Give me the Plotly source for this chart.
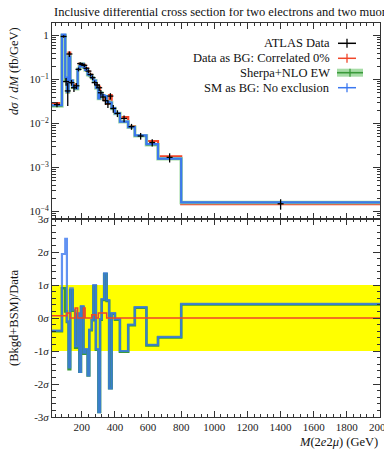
import plotly.graph_objects as go

# ---------------- data ----------------
bin_edges = [20, 80, 100, 110, 120, 130, 145, 160, 175, 185, 195, 210, 220, 235, 245, 260,
             270, 285, 300, 310, 320, 335, 350, 365, 380, 400, 430, 480, 520, 590, 660, 800, 2000]
bin_centers = [50, 90, 105, 115, 125, 137.5, 152.5, 167.5, 180, 190, 202.5, 215, 227.5, 240, 252.5, 265,
               277.5, 292.5, 305, 315, 327.5, 342.5, 357.5, 372.5, 390, 415, 455, 500, 555, 625, 730, 1400]

data_y = [0.027, 0.95, 0.09, 0.055, 0.38, 0.085, 0.065, 0.072, 0.17, 0.23, 0.22, 0.21, 0.18, 0.155,
          0.13, 0.11, 0.085, 0.075, 0.065, 0.05, 0.04, 0.033, 0.028, 0.042, 0.022, 0.017, 0.013,
          0.0085, 0.0052, 0.0037, 0.0017, 0.00015]
data_err = [0.0035, 0.06, 0.018, 0.03, 0.055, 0.013, 0.013, 0.011, 0.017, 0.018, 0.018, 0.017, 0.015,
            0.015, 0.013, 0.013, 0.01, 0.011, 0.01, 0.0075, 0.007, 0.0065, 0.0055, 0.007, 0.0044,
            0.003, 0.0023, 0.0013, 0.0009, 0.0007, 0.0004, 0.00004]
red_y = [0.029, 0.97, 0.092, 0.05, 0.41, 0.085, 0.065, 0.078, 0.17, 0.23, 0.22, 0.215, 0.18, 0.155,
         0.13, 0.112, 0.09, 0.075, 0.068, 0.052, 0.042, 0.034, 0.028, 0.044, 0.022, 0.017, 0.014,
         0.0087, 0.0053, 0.0040, 0.0018, 0.000148]
green_y = [0.025, 1.0, 0.095, 0.052, 0.325, 0.094, 0.067, 0.062, 0.17, 0.198, 0.224, 0.19, 0.164,
           0.129, 0.124, 0.108, 0.094, 0.064, 0.037, 0.05, 0.043, 0.041, 0.031, 0.03, 0.022, 0.0168,
           0.0109, 0.0082, 0.0053, 0.0033, 0.00158, 0.00016]
blue_y = [0.026, 1.05, 0.11, 0.053, 0.33, 0.095, 0.068, 0.063, 0.172, 0.2, 0.226, 0.192, 0.166,
          0.13, 0.125, 0.109, 0.095, 0.065, 0.037, 0.05, 0.044, 0.042, 0.031, 0.03, 0.0223, 0.017,
          0.011, 0.0083, 0.0054, 0.0034, 0.0016, 0.000162]

red_ratio = [0.07, 0.07, 0.07, 0.15, 0.15, 0.0, 0.0, 0.3, 0.0, 0.0, 0.0, 0.3, 0.0, 0.0, 0.0, 0.1,
             0.1, 0.0, 0.15, 0.15, 0.15, 0.15, 0.0, 0.0, 0.0, 0.0, 0.0, 0.0, 0.0, 0.0, 0.0, 0.0]
green_ratio = [-0.4, 0.9, 0.2, -0.12, -1.55, 0.85, 0.22, -0.9, 0.12, -1.63, 0.33, -1.08, -0.96,
               -1.74, -0.37, -0.07, 0.97, -0.96, -2.85, -0.05, 0.55, 1.33, 0.52, -2.13, 0.13, -0.05,
               -1.02, -0.22, 0.31, -0.83, -0.59, 0.41]
blue_ratio = [-0.38, 1.94, 2.4, -0.1, -1.5, 0.9, 0.25, -0.85, 0.15, -1.63, 0.36, -1.05, -0.94,
              -1.74, -0.35, -0.05, 1.0, -0.94, -2.85, -0.03, 0.57, 1.35, 0.54, -2.13, 0.15, -0.03,
              -1.0, -0.2, 0.33, -0.81, -0.57, 0.43]

sigma_ticks = [-3, -2, -1, 0, 1, 2, 3]
sigma_labels = ["-3<i>σ</i>", "-2<i>σ</i>", "-1<i>σ</i>", "0<i>σ</i>", "1<i>σ</i>", "2<i>σ</i>", "3<i>σ</i>"]
log_ticks = [1e-4, 1e-3, 1e-2, 1e-1, 1]
log_labels = ["10<sup>−4</sup>", "10<sup>−3</sup>", "10<sup>−2</sup>", "10<sup>−1</sup>", "1"]
x_tick_vals = [200, 400, 600, 800, 1000, 1200, 1400, 1600, 1800, 2000]

RED = "#f0462a"
GREEN = "#3a9a3a"
GREEN_BAND = "#a6dca6"
BLUE = "#3b78f0"
FONT = "Liberation Serif"

def step(vals):
    return vals + [vals[-1]]

fig = go.Figure()

# ---------------- top panel ----------------
fig.add_trace(go.Scatter(x=bin_edges, y=step(red_y), mode="lines", line_shape="hv",
                         line=dict(color=RED, width=2.2), xaxis="x", yaxis="y", showlegend=False))
fig.add_trace(go.Scatter(x=bin_edges, y=step(green_y), mode="lines", line_shape="hv",
                         line=dict(color=GREEN_BAND, width=3.5), xaxis="x", yaxis="y", showlegend=False))
fig.add_trace(go.Scatter(x=bin_edges, y=step(green_y), mode="lines", line_shape="hv",
                         line=dict(color=GREEN, width=1.5), xaxis="x", yaxis="y", showlegend=False))
fig.add_trace(go.Scatter(x=bin_edges, y=step(blue_y), mode="lines", line_shape="hv",
                         line=dict(color=BLUE, width=2.2), xaxis="x", yaxis="y", showlegend=False))
fig.add_trace(go.Scatter(x=bin_centers, y=data_y, mode="markers",
                         marker=dict(color="black", size=1),
                         error_y=dict(type="data", array=data_err, color="black", thickness=1.3, width=0),
                         error_x=dict(type="constant", value=18, color="black", thickness=1.3, width=0),
                         xaxis="x", yaxis="y", showlegend=False))

# ---------------- ratio panel ----------------
fig.add_trace(go.Scatter(x=bin_edges, y=step(green_ratio), mode="lines", line_shape="hv",
                         line=dict(color=GREEN, width=2.6), xaxis="x2", yaxis="y2", showlegend=False))
fig.add_trace(go.Scatter(x=bin_edges, y=step(blue_ratio), mode="lines", line_shape="hv",
                         line=dict(color=BLUE, width=2.2), opacity=0.8, xaxis="x2", yaxis="y2",
                         showlegend=False))
fig.add_trace(go.Scatter(x=bin_edges, y=step(red_ratio), mode="lines", line_shape="hv",
                         line=dict(color=RED, width=1.5), xaxis="x2", yaxis="y2", showlegend=False))

# ---------------- layout ----------------
# The page body has an 8px margin, so the figure is 8px smaller than the window
OFF = 8
W, H = 392 - OFF, 450 - OFF
PX_L, PX_R, PX_T, PX_B = 52, 380, 23, 417      # plot area in page pixels
L, R, T, B = PX_L - OFF, W - (PX_R - OFF), PX_T - OFF, H - (PX_B - OFF)
PW, PH = PX_R - PX_L, PX_B - PX_T
split = (PX_B - 219) / PH

def fx(px):
    return (px - PX_L) / PW

def fy(py):
    return (PX_B - py) / PH

axis_common = dict(showline=True, linecolor="#333", linewidth=1, mirror="allticks",
                   ticks="inside", tickcolor="#333", showgrid=False, zeroline=False,
                   tickfont=dict(family=FONT, size=11, color="#222"))

fig.update_layout(
    width=W, height=H, margin=dict(l=L, r=R, t=T, b=B, autoexpand=False),
    paper_bgcolor="white", plot_bgcolor="white",
    font=dict(family=FONT, color="#222"),
    xaxis=dict(domain=[0, 1], anchor="y", range=[20, 2000], tickvals=x_tick_vals, ticklen=6,
               showticklabels=False,
               minor=dict(dtick=40, tick0=0, ticks="inside", ticklen=3, tickcolor="#333"),
               **axis_common),
    yaxis=dict(domain=[split, 1], anchor="x", type="log", range=[-4.17, 0.284],
               tickvals=log_ticks, ticktext=log_labels, ticklen=7,
               minor=dict(tickvals=[m * 10 ** e for e in range(-5, 1) for m in range(2, 10)],
                          ticks="inside", ticklen=3.5, tickcolor="#333"),
               **axis_common),
    xaxis2=dict(domain=[0, 1], anchor="y2", range=[20, 2000], ticklen=6,
                tickvals=x_tick_vals,
                minor=dict(dtick=40, tick0=0, ticks="inside", ticklen=3, tickcolor="#333"),
                **axis_common),
    yaxis2=dict(domain=[0, split], anchor="x2", range=[-3, 3],
                tickvals=sigma_ticks, ticktext=sigma_labels, ticklen=7,
                minor=dict(dtick=0.2, tick0=0, ticks="inside", ticklen=3.5, tickcolor="#333"),
                **axis_common),
)

shapes = []
# yellow 1-sigma band
shapes.append(dict(type="rect", xref="x2 domain", yref="y2", x0=0, x1=1, y0=-1, y1=1,
                   fillcolor="#ffff00", line=dict(width=0), layer="below"))

# legend (manual, right-aligned text with symbols on the right)
leg_rows = [43.3, 58.3, 72.7, 87.7]
leg_names = ["ATLAS Data", "Data as BG: Correlated 0%", "Sherpa+NLO EW", "SM as BG: No exclusion"]
leg_colors = ["black", RED, GREEN, BLUE]
annotations = []
for i, (yy, name, col) in enumerate(zip(leg_rows, leg_names, leg_colors)):
    annotations.append(dict(xref="paper", yref="paper", x=fx(332), y=fy(yy), text=name,
                            showarrow=False, xanchor="right", yanchor="middle",
                            font=dict(family=FONT, size=12.5, color="#111")))
    if i == 2:
        shapes.append(dict(type="rect", xref="paper", yref="paper", x0=fx(337), x1=fx(363),
                           y0=fy(yy + 4), y1=fy(yy - 4), fillcolor=GREEN_BAND,
                           line=dict(width=0)))
        shapes.append(dict(type="line", xref="paper", yref="paper", x0=fx(337), x1=fx(363),
                           y0=fy(yy), y1=fy(yy), line=dict(color=col, width=1.6)))
        shapes.append(dict(type="line", xref="paper", yref="paper", x0=fx(350), x1=fx(350),
                           y0=fy(yy - 4), y1=fy(yy + 4), line=dict(color=col, width=1.3)))
    else:
        shapes.append(dict(type="line", xref="paper", yref="paper", x0=fx(338), x1=fx(356),
                           y0=fy(yy), y1=fy(yy), line=dict(color=col, width=1.5)))
        shapes.append(dict(type="line", xref="paper", yref="paper", x0=fx(347), x1=fx(347),
                           y0=fy(yy - 4.5), y1=fy(yy + 4.5), line=dict(color=col, width=1.3)))

annotations += [
    dict(xref="paper", yref="paper", x=fx(52), y=fy(12),
         text="Inclusive differential cross section for two electrons and two muons",
         showarrow=False, xanchor="left", yanchor="middle",
         font=dict(family=FONT, size=12.5, color="#111")),
    dict(xref="paper", yref="paper", x=fx(14), y=fy(71),
         text="<i>dσ</i> / <i>dM</i> (fb/GeV)", textangle=-90,
         showarrow=False, xanchor="center", yanchor="middle",
         font=dict(family=FONT, size=12.5, color="#111")),
    dict(xref="paper", yref="paper", x=fx(14), y=fy(318),
         text="(Bkgd+BSM)/Data", textangle=-90,
         showarrow=False, xanchor="center", yanchor="middle",
         font=dict(family=FONT, size=12.5, color="#111")),
    dict(xref="paper", yref="paper", x=fx(380), y=fy(442),
         text="<i>M</i>(2<i>e</i>2<i>μ</i>) (GeV)",
         showarrow=False, xanchor="right", yanchor="middle",
         font=dict(family=FONT, size=12.5, color="#111")),
]

fig.update_layout(shapes=shapes, annotations=annotations)
fig.write_html("out.html")
